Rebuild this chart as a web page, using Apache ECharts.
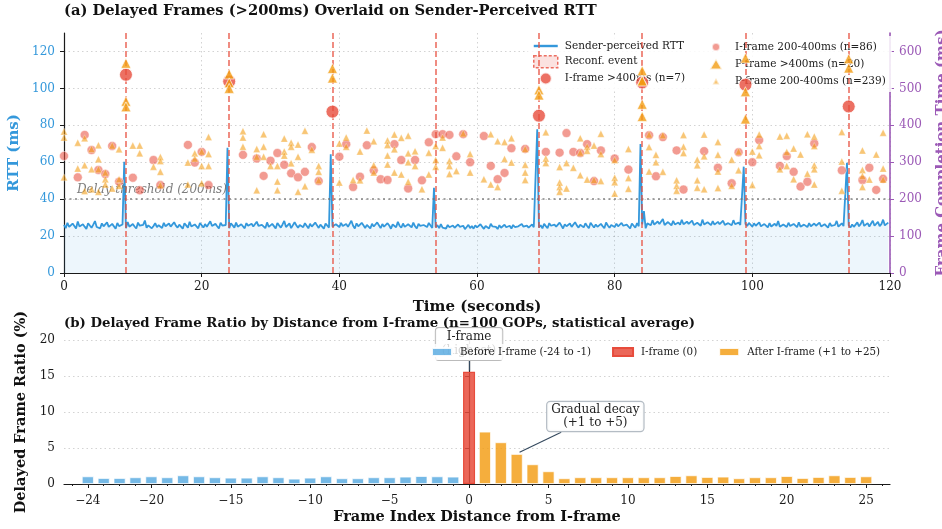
<!DOCTYPE html>
<html>
<head>
<meta charset="utf-8">
<script src="https://cdn.jsdelivr.net/npm/echarts@6/dist/echarts.min.js"></script>
<style>
  html, body { margin: 0; padding: 0; background: #ffffff; }
  #chart { width: 942px; height: 529px; }
</style>
</head>
<body>
<div id="chart"></div>
<script>
// ---------- Panel (a): sender-perceived RTT, sampled every 0.25 s ----------
const rttStep = 0.25;
const rttValues = [
  26.1,24.3,27.2,25.0,24.6,26.8,25.5,24.1,27.9,25.2,24.8,26.4,25.1,23.9,27.0,25.7,24.5,26.2,28.1,24.9,
  25.6,24.2,26.9,25.3,24.7,27.4,25.0,24.4,26.6,25.8,24.0,27.1,25.4,24.6,26.3,25.9,24.3,27.6,25.1,24.8,
  26.5,25.2,24.1,27.3,25.6,24.9,26.1,28.4,24.5,25.8,26.7,24.2,25.5,27.0,24.8,25.9,26.4,24.4,27.2,25.3,
  24.7,26.8,25.1,24.3,27.5,25.7,24.6,26.2,25.4,24.0,26.9,25.8,24.5,27.7,25.2,24.9,26.3,25.6,24.2,27.1,
  25.9,24.6,26.5,25.0,24.4,28.0,25.5,24.8,26.6,25.3,24.1,27.2,25.7,24.7,26.0,25.4,24.3,26.9,25.8,24.6,
  27.3,25.1,24.5,26.4,25.9,24.2,27.0,25.6,24.8,26.7,25.2,24.4,27.8,25.5,24.9,26.1,25.7,24.3,27.4,25.0,
  24.7,26.6,25.4,24.1,27.1,25.8,24.6,26.3,28.2,24.9,25.6,26.9,24.3,25.2,27.5,25.9,24.5,26.0,25.3,24.8,
  27.0,25.6,24.2,26.7,25.1,24.7,27.3,25.8,24.4,26.2,25.5,24.0,26.8,25.9,24.6,27.6,25.2,24.3,26.4,25.7,
  24.9,27.1,25.4,24.5,26.6,25.0,24.8,28.3,25.6,24.1,26.9,25.3,24.7,27.2,25.8,24.4,26.1,25.5,24.2,26.7,
  25.2,24.6,27.4,25.9,24.3,26.5,25.1,24.9,27.0,25.7,24.0,26.3,25.4,24.8,27.7,25.6,24.5,26.8,25.0,24.2,
  26.4,25.8,24.7,27.3,25.3,24.1,26.6,25.5,24.6,26.0,25.2,24.9,27.1,25.7,24.4,26.2,24.8,25.9,24.3,26.5,
  24.6,25.3,24.1,26.0,24.8,23.9,25.7,24.5,24.2,26.3,25.0,24.4,25.6,23.8,24.9,26.1,24.3,25.4,24.0,25.8,
  24.7,24.2,26.4,25.1,23.9,25.5,24.6,24.1,26.7,25.2,24.4,25.0,23.8,25.9,24.5,24.0,26.2,24.8,24.3,25.6,
  24.1,26.0,24.9,23.9,25.3,24.4,26.5,25.1,24.2,25.7,24.6,24.0,26.3,24.8,24.3,25.5,24.7,25.9,24.2,26.6,
  25.4,24.3,27.0,25.6,24.8,26.2,25.1,24.5,27.3,25.7,24.1,26.4,25.3,24.9,26.8,25.0,24.4,27.5,25.8,24.6,
  26.1,25.2,24.7,26.9,25.5,24.2,27.2,25.9,24.6,26.3,25.0,24.8,26.6,25.4,24.3,27.4,25.7,24.5,26.0,25.1,
  24.9,26.7,25.3,24.4,27.1,25.6,24.7,26.2,25.2,24.1,26.8,25.8,24.5,27.0,25.3,24.8,26.4,25.5,24.2,26.9,
  26.8,25.9,28.6,26.2,25.4,27.9,26.5,25.7,29.3,26.0,25.5,27.6,26.9,25.8,28.2,26.3,25.6,27.4,26.1,28.8,
  26.4,25.7,27.8,26.6,25.9,28.4,26.0,25.5,27.2,26.8,25.6,28.9,26.3,25.8,27.5,26.7,25.9,28.1,26.2,25.6,
  27.7,26.5,25.8,28.3,26.1,25.7,27.0,26.9,25.9,28.6,26.4,25.6,27.3,26.0,25.8,27.9,26.6,25.5,27.1,26.2,
  25.1,26.9,25.6,24.8,27.4,25.3,24.9,26.5,25.8,24.7,27.0,25.2,24.6,26.7,25.5,28.1,25.0,24.8,26.3,25.7,
  24.9,27.2,25.4,24.7,26.6,25.9,24.8,27.5,25.1,24.6,26.2,25.8,24.9,27.0,25.3,24.5,26.8,25.6,24.7,27.3,
  25.2,24.8,26.4,25.7,24.6,27.1,25.5,24.9,26.0,28.2,25.1,24.7,26.9,25.4,24.8,27.6,25.9,24.6,26.3,25.0,
  25.8,27.4,25.3,26.6,28.7,25.5,25.9,27.0,25.2,26.8,28.3,25.6,26.1,27.7,25.4,26.5,28.9,25.8,26.2,27.3
];
// RTT jumps just before each reconfiguration: [time (s), RTT (ms)]
const rttSpikes = [
  [8.75, 60.3], [23.75, 67.9], [38.75, 64.3], [53.75, 46.2],
  [68.75, 77.8], [83.75, 69.9], [84.25, 33.5], [98.75, 57.6], [113.75, 59.7]
];
const reconfTimes = [9, 24, 39, 54, 69, 84, 99, 114];
const delayThresholdRtt = 40; // 200 ms on the completion-time axis

// Delayed frames: [time (s), frame completion time (ms)]
const iFrameSevere = [[9, 537], [24, 519], [39, 437], [69, 426], [84, 516], [99, 510], [114, 451]];
const iFrameModerate = [
  [0,317],[2,259],[3,374],[4,333],[5,279],[6,268],[7,344],[8,247],[10,258],[11,224],
  [13,306],[14,238],[18,347],[19,299],[20,328],[21,238],[26,320],[28,310],[29,263],[30,304],
  [31,325],[32,293],[33,270],[34,259],[35,274],[36,341],[37,249],[40,315],[41,349],[42,233],
  [43,261],[44,346],[45,278],[46,254],[47,252],[48,349],[49,306],[50,229],[51,306],[52,251],
  [53,354],[54,376],[55,376],[56,374],[57,316],[58,376],[59,300],
  [61,371],[62,290],[63,254],[64,271],[65,338],[67,336],[70,328],[72,326],[73,379],[74,328],
  [75,325],[76,349],[77,249],[78,332],[80,310],[82,280],[85,373],[86,262],[87,368],[89,332],
  [90,226],[93,330],[95,285],[97,243],[98,327],[100,300],[101,360],[104,290],[105,317],[106,274],
  [107,234],[108,247],[109,351],[113,278],[116,252],[117,285],[118,225],[119,255]
];
const pFrameSevere = [
  [9,568],[9,465],[9,450],[24,539],[24,515],[24,500],[39,554],[39,528],[69,496],[69,482],
  [84,548],[84,522],[84,520],[84,457],[84,424],[99,582],[99,491],[99,417],[114,580],[114,555]
];
const pFrameModerate = [
  [0,383],[0,367],[0,259],[2,353],[2,283],[3,365],[3,292],[3,222],[4,336],[4,281],
  [4,227],[5,346],[5,308],[5,281],[5,220],[6,272],[6,254],[6,240],[7,345],[7,229],
  [8,335],[8,254],[8,236],[10,345],[11,345],[11,324],[13,288],[14,314],[14,303],[14,274],
  [14,238],[18,299],[18,240],[19,324],[19,310],[20,329],[20,290],[20,243],[21,368],[21,322],
  [21,290],[26,384],[26,367],[26,342],[28,336],[28,315],[28,224],[29,376],[29,342],[29,315],
  [30,290],[31,290],[31,248],[31,224],[32,364],[32,329],[32,318],[33,353],[33,342],[33,297],
  [34,348],[34,315],[34,220],[35,385],[35,235],[36,334],[37,290],[37,274],[37,251],[40,351],
  [40,245],[41,367],[41,342],[42,252],[43,329],[43,251],[44,386],[45,357],[45,292],[45,272],
  [47,359],[47,347],[47,318],[47,294],[48,375],[48,335],[48,272],[49,366],[49,267],[50,372],
  [50,324],[50,300],[50,247],[51,330],[51,290],[52,227],[53,326],[53,267],[54,344],[54,306],
  [54,288],[55,367],[55,339],[56,303],[56,290],[56,268],[57,276],[58,378],[59,322],[59,272],
  [61,254],[62,376],[62,240],[63,357],[63,233],[64,355],[64,309],[65,365],[65,299],[67,336],
  [67,293],[67,272],[67,252],[70,381],[70,310],[70,298],[72,287],[72,245],[72,233],[72,220],
  [73,298],[73,229],[74,285],[75,365],[75,326],[75,265],[76,342],[76,331],[76,253],[77,345],
  [77,252],[78,377],[78,322],[78,249],[80,306],[80,258],[80,246],[80,215],[82,336],[82,257],
  [82,228],[85,375],[85,341],[85,275],[86,320],[86,300],[87,373],[87,274],[89,251],[89,236],
  [89,223],[90,374],[90,342],[90,325],[92,307],[92,292],[92,251],[92,231],[93,375],[93,316],
  [93,227],[95,355],[95,320],[95,275],[95,230],[97,307],[97,236],[98,329],[98,278],[100,329],
  [100,238],[101,375],[101,344],[101,319],[104,370],[104,281],[105,372],[105,328],[105,290],[106,337],
  [106,254],[107,321],[108,376],[108,269],[109,370],[109,344],[109,292],[109,281],[109,240],[113,382],
  [113,302],[113,223],[116,332],[116,279],[116,263],[116,233],[117,253],[118,321],[119,380],[119,283],
  [119,253]
];
const rttTicks = [0, 20, 40, 60, 80, 100, 120];
const completionTicks = [0, 100, 200, 300, 400, 500, 600];

// ---------- Panel (b): delayed-frame ratio by distance from the I-frame ----------
const beforeIdx = [-24,-23,-22,-21,-20,-19,-18,-17,-16,-15,-14,-13,-12,-11,-10,-9,-8,-7,-6,-5,-4,-3,-2,-1];
const beforeRatio = [1.06,0.83,0.83,0.93,1.06,0.93,1.2,1.06,0.93,0.88,0.88,1.06,0.93,0.74,0.88,1.06,0.79,0.79,0.93,0.93,1.02,1.1,1.06,1.02];
const iFrameIdx = [0];
const iFrameRatio = [15.6];
const afterIdx = [1,2,3,4,5,6,7,8,9,10,11,12,13,14,15,16,17,18,19,20,21,22,23,24,25];
const afterRatio = [7.27,5.79,4.17,2.73,1.76,0.79,0.93,0.93,0.93,0.93,0.93,0.93,1.1,1.2,0.97,1.02,0.79,0.93,0.93,1.1,0.83,0.97,1.2,0.97,1.06];
const distanceTicks = [-24,-20,-15,-10,-5,0,5,10,15,20,25];
const distanceMinorTicks = [];
for (let k = -25; k <= 26; k++) distanceMinorTicks.push(k);
const ratioTicks = [0, 5, 10, 15, 20];

// ---------- build series data ----------
const rttData = rttValues.map((v, i) => [i * rttStep, v]);
rttSpikes.forEach(([t, v]) => { rttData[Math.round(t / rttStep)] = [t, v]; });
const pairs = (xs, ys) => xs.map((x, i) => [x, ys[i]]);

const FONT = 'DejaVu Serif';
const BLUE = '#3498db', PURPLE = '#9b59b6', RED = '#e74c3c', ORANGE = '#f39c12';
const DARK = '#1a1a1a';
const gridLine = { show: true, lineStyle: { type: [1.5, 3], color: 'rgba(0,0,0,0.22)', width: 0.8 } };
const minusFmt = v => (v < 0 ? '\u2212' + (-v) : String(v));

const chart = echarts.init(document.getElementById('chart'), null, { renderer: 'canvas' });

const option = {
  animation: false,
  backgroundColor: '#ffffff',
  textStyle: { fontFamily: FONT },
  title: [
    { text: '(a) Delayed Frames (>200ms) Overlaid on Sender-Perceived RTT', left: 64, top: 4, padding: 0,
      textStyle: { fontFamily: FONT, fontSize: 14.7, fontWeight: 'bold', color: '#111' } },
    { text: '(b) Delayed Frame Ratio by Distance from I-frame (n=100 GOPs, statistical average)', left: 64, top: 317, padding: 0,
      textStyle: { fontFamily: FONT, fontSize: 13.3, fontWeight: 'bold', color: '#111' } }
  ],
  grid: [
    { left: 64, right: 52, top: 33, height: 240, outerBoundsMode: 'none' },
    { left: 64, right: 52, top: 340, height: 144, outerBoundsMode: 'none' }
  ],
  legend: [
    { // first column of panel (a) legend
      orient: 'vertical', left: 528, top: 36, padding: [4, 12, 4, 5], itemGap: 3,
      itemWidth: 24, itemHeight: 12, z: 4,
      backgroundColor: 'rgba(255,255,255,0.85)',
      textStyle: { fontFamily: FONT, fontSize: 10.5, color: '#222', padding: [0, 0, 0, 2] },
      data: [
        { name: 'Sender-perceived RTT', icon: 'path://M0,0M24,12M0,4.8L24,4.8L24,7.2L0,7.2Z' },
        { name: 'Reconf. event', icon: 'rect',
          itemStyle: { color: 'rgba(231,76,60,0.2)', borderColor: RED, borderWidth: 1.5, borderType: [3, 2] } },
        { name: 'I-frame >400ms (n=7)', icon: 'circle' }
      ]
    },
    { // second column of panel (a) legend
      orient: 'vertical', left: 698, top: 36, padding: [4, 6, 4, 5], itemGap: 3,
      itemWidth: 24, itemHeight: 12, z: 4,
      backgroundColor: 'rgba(255,255,255,0.85)',
      textStyle: { fontFamily: FONT, fontSize: 10.5, color: '#222', padding: [0, 0, 0, 2] },
      data: [
        { name: 'I-frame 200-400ms (n=86)', icon: 'path://M0,0M24,12M16,6A4,4 0 1,1 8,6A4,4 0 1,1 16,6Z' },
        { name: 'P-frame >400ms (n=20)', icon: 'path://M0,0M24,12M12,0.5L18.5,11.5L5.5,11.5Z' },
        { name: 'P-frame 200-400ms (n=239)', icon: 'path://M0,0M24,12M12,3L15.5,9.5L8.5,9.5Z' }
      ]
    },
    { // panel (b) legend, drawn over the I-frame callout
      orient: 'horizontal', left: 425, top: 344, padding: [3, 6, 3, 6], itemGap: 21,
      itemWidth: 20, itemHeight: 8, z: 12,
      backgroundColor: 'rgba(255,255,255,0.82)',
      textStyle: { fontFamily: FONT, fontSize: 10.3, color: '#222', padding: [0, 0, 0, 3] },
      data: [
        { name: 'Before I-frame (-24 to -1)', icon: 'rect' },
        { name: 'I-frame (0)', icon: 'rect' },
        { name: 'After I-frame (+1 to +25)', icon: 'rect' }
      ]
    }
  ],
  xAxis: [
    { gridIndex: 0, type: 'value', min: 0, max: 120, interval: 20,
      axisLine: { lineStyle: { color: DARK, width: 1.2 } },
      axisTick: { length: 4, lineStyle: { color: DARK } },
      axisLabel: { color: DARK, fontSize: 12, margin: 8, fontFamily: FONT },
      splitLine: gridLine,
      name: 'Time (seconds)', nameLocation: 'middle', nameGap: 27,
      nameTextStyle: { fontFamily: FONT, fontSize: 15, fontWeight: 'bold', color: '#111' } },
    { gridIndex: 1, type: 'value', min: -25.5, max: 26.5, position: 'bottom',
      axisLine: { lineStyle: { color: DARK, width: 1.2 } },
      axisTick: { length: 4, lineStyle: { color: DARK }, customValues: distanceTicks },
      axisLabel: { color: DARK, fontSize: 12, margin: 11, fontFamily: FONT, customValues: distanceTicks, formatter: minusFmt },
      splitLine: { show: false },
      name: 'Frame Index Distance from I-frame', nameLocation: 'middle', nameGap: 26,
      nameTextStyle: { fontFamily: FONT, fontSize: 14.5, fontWeight: 'bold', color: '#111' } },
    { gridIndex: 1, type: 'value', min: -25.5, max: 26.5, position: 'bottom', offset: 0,
      axisLine: { show: false },
      axisTick: { length: 2, lineStyle: { color: DARK }, customValues: distanceMinorTicks },
      axisLabel: { show: false },
      splitLine: { show: false } }
  ],
  yAxis: [
    { gridIndex: 0, type: 'value', min: 0, max: 130, interval: 20, position: 'left',
      axisLine: { show: true, lineStyle: { color: DARK, width: 1.2 } },
      axisTick: { show: true, length: 4, lineStyle: { color: DARK }, customValues: rttTicks },
      axisLabel: { color: BLUE, fontSize: 12, margin: 9, fontFamily: FONT, customValues: rttTicks },
      splitLine: gridLine,
      name: 'RTT (ms)', nameLocation: 'middle', nameRotate: 90, nameGap: 38,
      nameTextStyle: { fontFamily: FONT, fontSize: 15, fontWeight: 'bold', color: BLUE } },
    { gridIndex: 0, type: 'value', min: 0, max: 650, interval: 100, position: 'right',
      axisLine: { show: true, lineStyle: { color: PURPLE, width: 1.6 } },
      axisTick: { show: true, length: 4, lineStyle: { color: PURPLE }, customValues: completionTicks },
      axisLabel: { color: PURPLE, fontSize: 12, margin: 9, fontFamily: FONT, customValues: completionTicks },
      splitLine: { show: false },
      name: 'Frame Completion Time (ms)', nameLocation: 'middle', nameRotate: 90, nameGap: 45,
      nameTextStyle: { fontFamily: FONT, fontSize: 15, fontWeight: 'bold', color: PURPLE } },
    { gridIndex: 1, type: 'value', min: 0, max: 20, interval: 5,
      axisLine: { show: true, lineStyle: { color: DARK, width: 1.2 } },
      axisTick: { show: true, length: 4, lineStyle: { color: DARK }, customValues: ratioTicks },
      axisLabel: { color: DARK, fontSize: 12, margin: 9, fontFamily: FONT, customValues: ratioTicks },
      splitLine: gridLine,
      name: 'Delayed Frame Ratio (%)', nameLocation: 'middle', nameRotate: 90, nameGap: 31,
      nameTextStyle: { fontFamily: FONT, fontSize: 14.5, fontWeight: 'bold', color: '#111' } }
  ],
  series: [
    { name: 'Sender-perceived RTT', type: 'line', xAxisIndex: 0, yAxisIndex: 0,
      data: rttData, symbol: 'none', z: 2,
      lineStyle: { color: BLUE, width: 1.8 }, itemStyle: { color: BLUE },
      areaStyle: { color: 'rgba(52,152,219,0.13)' },
      markLine: {
        silent: true, symbol: 'none', animation: false,
        lineStyle: { color: 'rgba(110,110,110,0.85)', type: [2, 3.5], width: 1.6 },
        label: { show: true, position: 'insideStartTop', formatter: 'Delay threshold (200ms)',
          fontFamily: FONT, fontSize: 12, fontStyle: 'italic', color: 'rgba(110,110,110,0.9)', distance: [13, 3] },
        data: [{ yAxis: delayThresholdRtt }]
      } },
    { name: 'Reconf. event', type: 'scatter', xAxisIndex: 0, yAxisIndex: 0, data: [], z: 2,
      itemStyle: { color: 'rgba(231,76,60,0.2)', borderColor: RED, borderWidth: 1.5, borderType: 'dashed' },
      markLine: {
        silent: true, symbol: 'none', animation: false,
        lineStyle: { color: 'rgba(231,76,60,0.8)', type: [6, 3], width: 1.6 },
        label: { show: false },
        data: reconfTimes.map(t => ({ xAxis: t }))
      } },
    { name: 'I-frame >400ms (n=7)', type: 'scatter', xAxisIndex: 0, yAxisIndex: 1,
      data: iFrameSevere, symbol: 'circle', symbolSize: 13, z: 5,
      itemStyle: { color: RED, borderColor: '#ffffff', borderWidth: 1 } },
    { name: 'I-frame 200-400ms (n=86)', type: 'scatter', xAxisIndex: 0, yAxisIndex: 1,
      data: iFrameModerate, symbol: 'circle', symbolSize: 9, z: 5,
      itemStyle: { color: 'rgba(231,76,60,0.7)', borderColor: 'rgba(255,255,255,0.8)', borderWidth: 0.8 } },
    { name: 'P-frame >400ms (n=20)', type: 'scatter', xAxisIndex: 0, yAxisIndex: 1,
      data: pFrameSevere, symbol: 'triangle', symbolSize: 10, z: 5,
      itemStyle: { color: ORANGE, borderColor: '#ffffff', borderWidth: 0.8 } },
    { name: 'P-frame 200-400ms (n=239)', type: 'scatter', xAxisIndex: 0, yAxisIndex: 1,
      data: pFrameModerate, symbol: 'triangle', symbolSize: 7, z: 5,
      itemStyle: { color: 'rgba(243,156,18,0.72)', borderColor: 'rgba(255,255,255,0.7)', borderWidth: 0.5 } },

    { name: 'Before I-frame (-24 to -1)', type: 'bar', xAxisIndex: 1, yAxisIndex: 2,
      data: pairs(beforeIdx, beforeRatio), barWidth: 12, barGap: '-100%',
      itemStyle: { color: 'rgba(93,173,226,0.85)', borderColor: 'rgba(255,255,255,0.9)', borderWidth: 0.8 } },
    { name: 'I-frame (0)', type: 'bar', xAxisIndex: 1, yAxisIndex: 2,
      data: pairs(iFrameIdx, iFrameRatio), barWidth: 12, barGap: '-100%',
      itemStyle: { color: 'rgba(231,76,60,0.85)', borderColor: RED, borderWidth: 1.2 },
      markPoint: {
        symbol: 'rect', symbolSize: 1, silent: true, animation: false, z: 3,
        itemStyle: { color: 'rgba(0,0,0,0)' },
        data: [{ coord: [0, 19.45],
          label: { show: true, position: 'inside', formatter: 'I-frame\n(highest)', fontFamily: FONT, fontSize: 12,
            lineHeight: 14, color: '#222', backgroundColor: 'rgba(255,255,255,0.9)', borderColor: '#bbbbbb',
            borderWidth: 1, borderRadius: 3, padding: [2, 6, 2, 6] } }]
      },
      markLine: {
        silent: true, animation: false, symbol: ['none', 'arrow'], symbolSize: [0, 7], z: 3,
        lineStyle: { color: '#34495e', width: 1.2, type: 'solid' }, label: { show: false },
        data: [[{ coord: [0, 17.2] }, { coord: [0, 15.75] }]]
      } },
    { name: 'After I-frame (+1 to +25)', type: 'bar', xAxisIndex: 1, yAxisIndex: 2,
      data: pairs(afterIdx, afterRatio), barWidth: 12, barGap: '-100%',
      itemStyle: { color: 'rgba(243,156,18,0.82)', borderColor: 'rgba(255,255,255,0.9)', borderWidth: 0.8 },
      markPoint: {
        symbol: 'rect', symbolSize: 1, silent: true, animation: false,
        itemStyle: { color: 'rgba(0,0,0,0)' },
        data: [{ coord: [7.95, 9.38],
          label: { show: true, position: 'inside', formatter: 'Gradual decay\n(+1 to +5)', fontFamily: FONT, fontSize: 12,
            lineHeight: 13.5, color: '#222', backgroundColor: 'rgba(255,255,255,0.92)', borderColor: '#b4bcc4',
            borderWidth: 1.2, borderRadius: 3, padding: [1, 4, 1, 4] } }]
      },
      markLine: {
        silent: true, animation: false, symbol: ['none', 'arrow'], symbolSize: [0, 7],
        lineStyle: { color: '#34495e', width: 1.1, type: 'solid' }, label: { show: false },
        data: [[{ coord: [5.8, 7.18] }, { coord: [3.18, 4.4] }]]
      } }
  ]
};

chart.setOption(option);
</script>
</body>
</html>
